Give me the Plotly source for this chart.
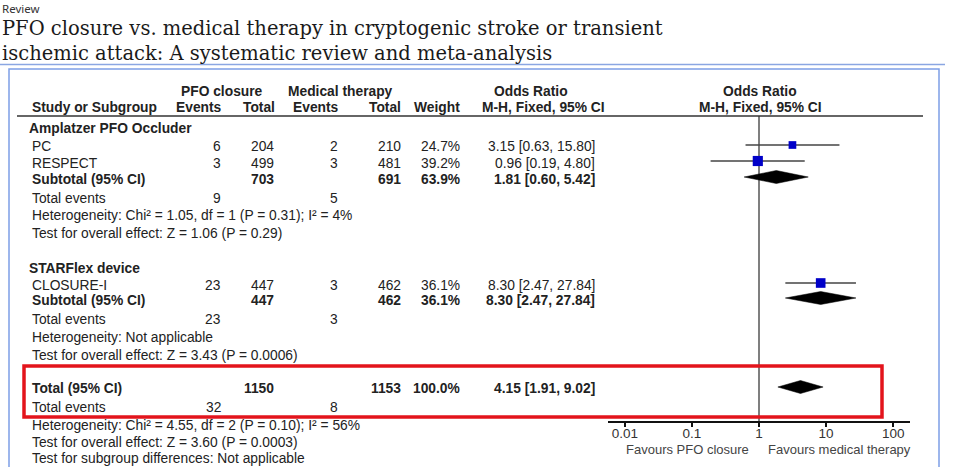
import plotly.graph_objects as go

# ---------------- data ----------------
group_names = ["Amplatzer PFO Occluder", "STARFlex device"]
studies = ["PC", "RESPECT", "CLOSURE-I"]
study_group = [0, 0, 1]
pfo_events = [6, 3, 23]
pfo_total = [204, 499, 447]
med_events = [2, 3, 3]
med_total = [210, 481, 462]
weights = [24.7, 39.2, 36.1]
or_est = [3.15, 0.96, 8.30]
or_lo = [0.63, 0.19, 2.47]
or_hi = [15.80, 4.80, 27.84]

sub_pfo_total = [703, 447]
sub_med_total = [691, 462]
sub_weight = [63.9, 36.1]
sub_est = [1.81, 8.30]
sub_lo = [0.60, 2.47]
sub_hi = [5.42, 27.84]
sub_pfo_events = [9, 23]
sub_med_events = [5, 3]
sub_het = ["Heterogeneity: Chi² = 1.05, df = 1 (P = 0.31); I² = 4%",
           "Heterogeneity: Not applicable"]
sub_test = ["Test for overall effect: Z = 1.06 (P = 0.29)",
            "Test for overall effect: Z = 3.43 (P = 0.0006)"]

tot_pfo_total = 1150
tot_med_total = 1153
tot_weight = 100.0
tot_est, tot_lo, tot_hi = 4.15, 1.91, 9.02
tot_pfo_events = 32
tot_med_events = 8
tot_het = "Heterogeneity: Chi² = 4.55, df = 2 (P = 0.10); I² = 56%"
tot_test = "Test for overall effect: Z = 3.60 (P = 0.0003)"
tot_sub = "Test for subgroup differences: Not applicable"

tick_vals = [0.01, 0.1, 1, 10, 100]
tick_text = ["0.01", "0.1", "1", "10", "100"]
fav_left = "Favours PFO closure"
fav_right = "Favours medical therapy"

title_kicker = "Review"
title_lines = ["PFO closure vs. medical therapy in cryptogenic stroke or transient",
               "ischemic attack: A systematic review and meta-analysis"]

# ---------------- layout (pixel positions) ----------------
W, H = 954, 467
AXIS_Y = 421          # pixel row of forest x-axis
PLOT_X0, PLOT_X1 = 608, 910

def px(x):
    return x / W

def py(y):
    return 1 - y / H

FONT = "Liberation Sans, Arial, sans-serif"
TXT = "#222222"
FS = 13.8

group_y = [128, 268]
study_y = [147, 163, 285]
sub_y = [179, 300]
sub_ev_y = [198, 319]
sub_het_y = [216, 337]
sub_test_y = [233, 355]
tot_y = 388
tot_ev_y = 407
tot_het_y = 425
tot_test_y = 442
tot_sub_y = 458
MARK_DY = -2

COL_NAME = 30
COL_GROUP = 27
COL_E1, COL_T1, COL_E2, COL_T2, COL_W, COL_OR = 223, 276, 340, 403, 462, 597

annotations = []

def txt(x, y, s, anchor="left", bold=False, size=FS, color=TXT, family=FONT):
    if bold:
        s = "<b>" + s + "</b>"
    annotations.append(dict(x=px(x), y=py(y), xref="paper", yref="paper", text=s,
                            showarrow=False, xanchor=anchor, yanchor="middle", align="left",
                            font=dict(family=family, size=size, color=color)))

# title
txt(0, 8, title_kicker, size=11.5, color="#333333", family="Noto Sans, sans-serif")
txt(0, 41, "<br>".join(title_lines), size=19.5, color="#1a1a1a", family="DejaVu Serif, serif")

# headers
txt(222, 92, "PFO closure", "center", True)
txt(340, 92, "Medical therapy", "center", True)
txt(531, 92, "Odds Ratio", "center", True)
txt(760, 92, "Odds Ratio", "center", True)
txt(COL_NAME, 108, "Study or Subgroup", "left", True)
txt(224, 108, "Events", "right", True)
txt(277, 108, "Total", "right", True)
txt(341, 108, "Events", "right", True)
txt(403, 108, "Total", "right", True)
txt(462, 108, "Weight", "right", True)
txt(543, 108, "M-H, Fixed, 95% CI", "center", True)
txt(760, 108, "M-H, Fixed, 95% CI", "center", True)

def ci_text(e, l, h):
    return f"{e:.2f} [{l:.2f}, {h:.2f}]"

for g, gname in enumerate(group_names):
    txt(COL_GROUP, group_y[g], gname, "left", True)
for i, s in enumerate(studies):
    y = study_y[i]
    txt(COL_NAME, y, s)
    txt(COL_E1, y, str(pfo_events[i]), "right")
    txt(COL_T1, y, str(pfo_total[i]), "right")
    txt(COL_E2, y, str(med_events[i]), "right")
    txt(COL_T2, y, str(med_total[i]), "right")
    txt(COL_W, y, f"{weights[i]:.1f}%", "right")
    txt(COL_OR, y, ci_text(or_est[i], or_lo[i], or_hi[i]), "right")
for g in range(len(group_names)):
    y = sub_y[g]
    txt(COL_NAME, y, "Subtotal (95% CI)", "left", True)
    txt(COL_T1, y, str(sub_pfo_total[g]), "right", True)
    txt(COL_T2, y, str(sub_med_total[g]), "right", True)
    txt(COL_W, y, f"{sub_weight[g]:.1f}%", "right", True)
    txt(COL_OR, y, ci_text(sub_est[g], sub_lo[g], sub_hi[g]), "right", True)
    txt(COL_NAME, sub_ev_y[g], "Total events")
    txt(COL_E1, sub_ev_y[g], str(sub_pfo_events[g]), "right")
    txt(COL_E2, sub_ev_y[g], str(sub_med_events[g]), "right")
    txt(COL_NAME, sub_het_y[g], sub_het[g])
    txt(COL_NAME, sub_test_y[g], sub_test[g])

txt(COL_NAME, tot_y, "Total (95% CI)", "left", True)
txt(COL_T1, tot_y, str(tot_pfo_total), "right", True)
txt(COL_T2, tot_y, str(tot_med_total), "right", True)
txt(COL_W, tot_y, f"{tot_weight:.1f}%", "right", True)
txt(COL_OR, tot_y, ci_text(tot_est, tot_lo, tot_hi), "right", True)
txt(COL_NAME, tot_ev_y, "Total events")
txt(COL_E1, tot_ev_y, str(tot_pfo_events), "right")
txt(COL_E2, tot_ev_y, str(tot_med_events), "right")
txt(COL_NAME, tot_het_y, tot_het)
txt(COL_NAME, tot_test_y, tot_test)
txt(COL_NAME, tot_sub_y, tot_sub)

txt(751, 449, fav_left, "right", size=13, color="#444444")
txt(766, 449, fav_right, "left", size=13, color="#444444")

# ---------------- forest traces ----------------
fig = go.Figure()

# line of no effect
fig.add_trace(go.Scatter(x=[1, 1], y=[116, AXIS_Y], mode="lines",
                         line=dict(color="#555555", width=1.5), hoverinfo="skip"))

DIAMOND_H = 6.5
def diamond(lo, est, hi, y, color="black"):
    fig.add_trace(go.Scatter(x=[lo, est, hi, est, lo],
                             y=[y, y - DIAMOND_H, y, y + DIAMOND_H, y],
                             mode="lines", fill="toself", fillcolor=color,
                             line=dict(color=color, width=0.5), hoverinfo="skip"))

for i in range(len(studies)):
    y = study_y[i] + MARK_DY
    fig.add_trace(go.Scatter(x=[or_lo[i], or_hi[i]], y=[y, y], mode="lines",
                             line=dict(color="#444444", width=1.5), hoverinfo="skip"))
for i in range(len(studies)):
    y = study_y[i] + MARK_DY
    fig.add_trace(go.Scatter(x=[or_est[i]], y=[y], mode="markers",
                             marker=dict(symbol="square", color="#0000c8",
                                         size=3.5 + 0.17 * weights[i], line=dict(width=0)),
                             hoverinfo="skip"))
for g in range(len(group_names)):
    diamond(sub_lo[g], sub_est[g], sub_hi[g], sub_y[g] + MARK_DY)
diamond(tot_lo, tot_est, tot_hi, tot_y - 1)

# ---------------- shapes ----------------
shapes = [
    # title underline
    dict(type="line", xref="paper", yref="paper", x0=px(0), x1=px(945), y0=py(64.5), y1=py(64.5),
         line=dict(color="#8aa6e2", width=1.5)),
    # outer blue box
    dict(type="rect", xref="paper", yref="paper", x0=px(9), x1=px(939), y0=py(69), y1=py(480),
         line=dict(color="#7d9ee6", width=1.5)),
    # header underline
    dict(type="line", xref="paper", yref="paper", x0=px(17), x1=px(923), y0=py(116), y1=py(116),
         line=dict(color="#333333", width=1.5)),
    # red highlight box
    dict(type="rect", xref="paper", yref="paper", x0=px(24), x1=px(882), y0=py(366), y1=py(417),
         line=dict(color="#e3141c", width=3.5)),
]

fig.update_layout(
    width=W, height=H, autosize=False,
    margin=dict(l=0, r=0, t=0, b=0),
    paper_bgcolor="white", plot_bgcolor="rgba(0,0,0,0)",
    showlegend=False,
    annotations=annotations, shapes=shapes,
    xaxis=dict(type="log", range=[-2.25, 2.25], domain=[px(PLOT_X0), px(PLOT_X1)],
               tickvals=tick_vals, ticktext=tick_text, ticks="outside", ticklen=4,
               tickcolor="#111111", tickwidth=1.5, ticklabelstandoff=-5,
               showline=True, linecolor="#111111", linewidth=1.5,
               showgrid=False, zeroline=False,
               tickfont=dict(family=FONT, size=13.5, color="#333333"), fixedrange=True),
    yaxis=dict(range=[AXIS_Y, 0], domain=[(H - AXIS_Y) / H, 1], visible=False,
               showgrid=False, zeroline=False, fixedrange=True),
)

fig.write_html("out.html", config={"displayModeBar": False})
